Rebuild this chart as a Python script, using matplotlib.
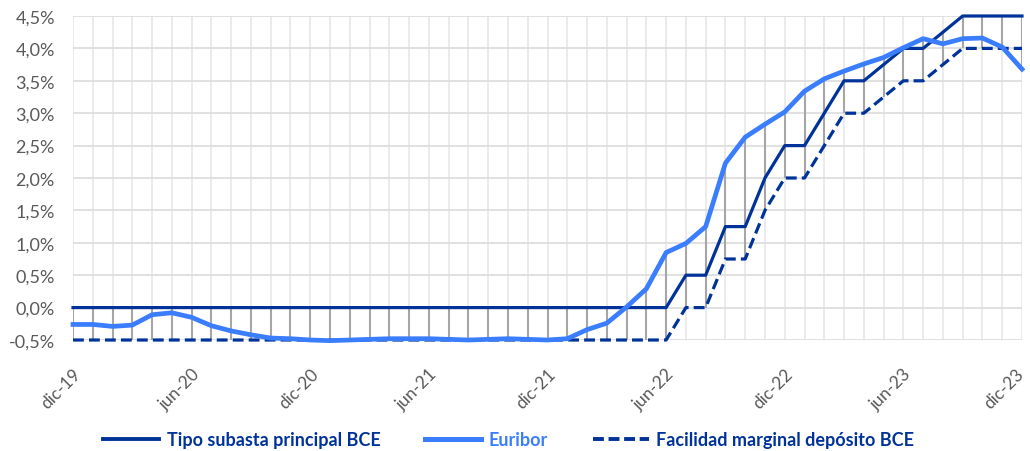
import matplotlib
matplotlib.use("Agg")
import matplotlib.pyplot as plt
from matplotlib.lines import Line2D
import matplotlib.transforms as mtransforms
import numpy as np

months_es = ["ene", "feb", "mar", "abr", "may", "jun", "jul", "ago", "sep", "oct", "nov", "dic"]
# Dec-2019 .. Dec-2023 monthly
dates = ["dic-19"] + [f"{m}-{y}" for y in ["20", "21", "22", "23"] for m in months_es]

tipo_bce = [0.0] * 31 + [0.5, 0.5, 1.25, 1.25, 2.0, 2.5, 2.5, 3.0, 3.5, 3.5, 3.75, 4.0, 4.0, 4.25, 4.5, 4.5, 4.5, 4.5]
euribor = [-0.26, -0.26, -0.29, -0.27, -0.11, -0.08, -0.15, -0.28, -0.36, -0.42, -0.47, -0.48, -0.50,
           -0.51, -0.50, -0.49, -0.48, -0.48, -0.48, -0.49, -0.50, -0.49, -0.48, -0.49, -0.50,
           -0.48, -0.34, -0.24, 0.01, 0.29, 0.85, 0.99, 1.25, 2.23, 2.63, 2.83, 3.02,
           3.34, 3.53, 3.65, 3.76, 3.86, 4.01, 4.15, 4.07, 4.15, 4.16, 4.02, 3.68]
deposito = [-0.5] * 31 + [0.0, 0.0, 0.75, 0.75, 1.5, 2.0, 2.0, 2.5, 3.0, 3.0, 3.25, 3.5, 3.5, 3.75, 4.0, 4.0, 4.0, 4.0]

series_names = ["Tipo subasta principal BCE", "Euribor", "Facilidad marginal depósito BCE"]
y_ticks = [-0.5, 0.0, 0.5, 1.0, 1.5, 2.0, 2.5, 3.0, 3.5, 4.0, 4.5]

DARK = "#003399"
LIGHT = "#3A7DFF"
GREY_TXT = "#595959"

plt.rcParams["font.family"] = ["Lato", "DejaVu Sans"]

fig = plt.figure(figsize=(10.30, 4.52), dpi=100)
ax = fig.add_axes([73 / 1030, 1 - 341 / 452, (1022 - 73) / 1030, (341 - 17) / 452])

x = np.arange(len(dates))

# background grid
for xi in x:
    ax.axvline(xi, color="#E8E8E8", lw=1.2, zorder=0)
for yt in y_ticks:
    ax.axhline(yt, color="#DCDCDC", lw=1.2, zorder=0)

# high-low lines
arr = np.array([tipo_bce, euribor, deposito])
ax.vlines(x, arr.min(axis=0), arr.max(axis=0), color="#A6A6A6", lw=1.5, zorder=1)

ax.plot(x, deposito, color=DARK, lw=2.3, ls=(0, (3.4, 1.6)), zorder=3, clip_on=False)
ax.plot(x, tipo_bce, color=DARK, lw=2.3, zorder=3, clip_on=False)
ax.plot(x, euribor, color=LIGHT, lw=3.4, zorder=4, solid_joinstyle="round", clip_on=False)

ax.set_xlim(0, len(dates) - 1)
ax.set_ylim(-0.5, 4.5)
ax.set_yticks(y_ticks)
ax.set_yticklabels([f"{v:.1f}%".replace(".", ",") for v in y_ticks], color=GREY_TXT, fontsize=13)
tick_idx = list(range(0, len(dates), 6))
ax.set_xticks(tick_idx)
ax.set_xticklabels([dates[i] for i in tick_idx], rotation=45, ha="right", va="top",
                   rotation_mode="anchor", color=GREY_TXT, fontsize=12.5)
ax.tick_params(axis="both", length=0)
ax.tick_params(axis="x", pad=18)
ax.tick_params(axis="y", pad=13)
for s in ax.spines.values():
    s.set_visible(False)

last = ax.get_xticklabels()[-1]
last.set_transform(last.get_transform() + mtransforms.ScaledTranslation(-6 / 100, 0, fig.dpi_scale_trans))

handles = [Line2D([], [], color=DARK, lw=2.8),
           Line2D([], [], color=LIGHT, lw=3.6),
           Line2D([], [], color=DARK, lw=2.8, ls=(0, (2.8, 1.2)))]
leg = fig.legend(handles, series_names, loc="center", bbox_to_anchor=(0.494, 1 - 441 / 452),
                 ncol=3, frameon=False, handlelength=3.1, handletextpad=0.4, columnspacing=2.5,
                 prop={"weight": "bold", "size": 13})
for t, c in zip(leg.get_texts(), [DARK, LIGHT, DARK]):
    t.set_color(c)

fig.savefig("out.png", dpi=100)
